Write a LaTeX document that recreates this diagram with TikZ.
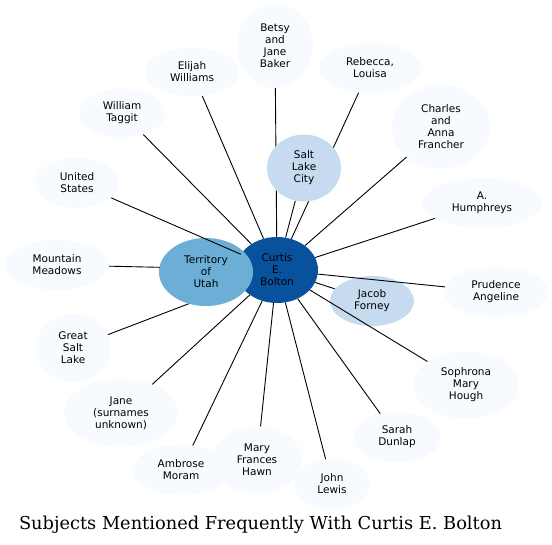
\documentclass[tikz,border=0pt]{standalone}
\usepackage{fontspec}
\setmainfont{DejaVu Serif}
\setsansfont{DejaVu Sans}
\usetikzlibrary{shapes.geometric}
\definecolor{hubblue}{HTML}{08519C}
\definecolor{midblue}{HTML}{6BAED6}
\definecolor{paleblue}{HTML}{C6DBEF}
\definecolor{faintblue}{HTML}{F7FBFF}
\pgfdeclarelayer{lowedges}
\pgfdeclarelayer{highedges}
\pgfsetlayers{lowedges,main,highedges}
\begin{document}
\begin{tikzpicture}[x=1pt,y=-1pt,
  blob/.style={ellipse, inner sep=0pt, align=center,
    font=\sffamily\fontsize{10.5}{12}\selectfont},
  subject/.style={blob, fill=faintblue},
  link/.style={line width=0.9pt}]
\useasboundingbox (0,0) rectangle (552,545);
% hub and the nodes close to it
\node[blob, fill=hubblue, minimum width=82, minimum height=66] (bolton) at (277,270)
{Curtis\\E.\\Bolton};
\node[blob, fill=midblue, minimum width=94, minimum height=68] (utah) at (206,272)
{Territory\\of\\Utah};
\node[blob, fill=paleblue, minimum width=74, minimum height=67] (slc) at (304,168)
{Salt\\Lake\\City};
\node[blob, fill=paleblue, minimum width=84, minimum height=50] (forney) at (372,301)
{Jacob\\Forney};
% outer ring
\node[subject, minimum width=76, minimum height=84] (baker) at (275,46)
{Betsy\\and\\Jane\\Baker};
\node[subject, minimum width=94, minimum height=49] (elijah) at (192,72)
{Elijah\\Williams};
\node[subject, minimum width=102, minimum height=50] (rebecca) at (370,68)
{Rebecca,\\Louisa};
\node[subject, minimum width=87, minimum height=49] (taggit) at (122,113)
{William\\Taggit};
\node[subject, minimum width=98, minimum height=84] (francher) at (441,127)
{Charles\\and\\Anna\\Francher};
\node[subject, minimum width=84, minimum height=50] (states) at (77,183)
{United\\States};
\node[subject, minimum width=119, minimum height=50] (humphreys) at (482,203)
{A.\\Humphreys};
\node[subject, minimum width=104, minimum height=50] (meadows) at (57,265)
{Mountain\\Meadows};
\node[subject, minimum width=104, minimum height=50] (prudence) at (496,292)
{Prudence\\Angeline};
\node[subject, minimum width=75, minimum height=68] (gsl) at (73,348)
{Great\\Salt\\Lake};
\node[subject, minimum width=114, minimum height=68] (jane) at (121,413)
{Jane\\(surnames\\unknown)};
\node[subject, minimum width=107, minimum height=67] (hough) at (466,385)
{Sophrona\\Mary\\Hough};
\node[subject, minimum width=88, minimum height=50] (dunlap) at (397,437)
{Sarah\\Dunlap};
\node[subject, minimum width=98, minimum height=50] (moram) at (181,470)
{Ambrose\\Moram};
\node[subject, minimum width=90, minimum height=67] (hawn) at (257,460)
{Mary\\Frances\\Hawn};
\node[subject, minimum width=76, minimum height=50] (lewis) at (332,484)
{John\\Lewis};
% title
\node[font=\fontsize{17.8}{20}\selectfont, anchor=base] (title) at (260.5,529)
{Subjects Mentioned Frequently With Curtis E. Bolton};
% links
\begin{pgfonlayer}{lowedges}
\foreach \n in {utah,slc,forney,meadows,gsl,baker,rebecca}
  \draw[link] (bolton) -- (\n);
\end{pgfonlayer}
\begin{pgfonlayer}{highedges}
\foreach \n in {elijah,taggit,francher,states,humphreys,prudence,jane,hough,dunlap,moram,hawn,lewis}
  \draw[link] (bolton) -- (\n);
\end{pgfonlayer}
\end{tikzpicture}
\end{document}
